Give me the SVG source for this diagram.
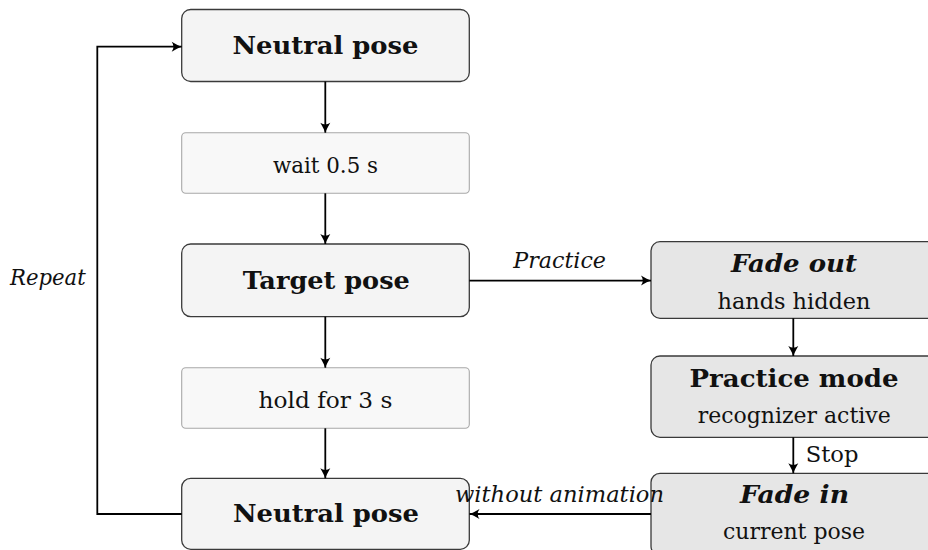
<svg xmlns="http://www.w3.org/2000/svg" width="928" height="550" viewBox="0 0 928 550" font-family="'DejaVu Serif', 'Liberation Serif', serif">
  <style>
    text { font-family: 'DejaVu Serif', 'Liberation Serif', serif; fill: #111; }
    .main { fill: #f4f4f4; stroke: #3a3a3a; stroke-width: 1.3; }
    .step { fill: #f8f8f8; stroke: #a8a8a8; stroke-width: 1.1; }
    .alt  { fill: #e6e6e6; stroke: #3a3a3a; stroke-width: 1.3; }
    .title { font-size: 25px; font-weight: bold; text-anchor: middle; }
    .titleit { font-size: 25px; font-weight: bold; font-style: italic; text-anchor: middle; }
    .body { font-size: 22px; text-anchor: middle; }
    .lbl { font-size: 22px; font-style: italic; }
    .plain { font-size: 22px; }
    .edge { fill: none; stroke: #000; stroke-width: 1.8; marker-end: url(#tip); }
  </style>
  <defs>
    <marker id="tip" viewBox="-11 -6 12 12" refX="0" refY="0" markerWidth="12" markerHeight="12" markerUnits="userSpaceOnUse" orient="auto">
      <path d="M-10,-5 Q-3.5,-1.2 0,0 Q-3.5,1.2 -10,5 Q-6.5,0 -10,-5 Z" fill="#000"/>
    </marker>
  </defs>

  <rect width="928" height="550" fill="#fff"/>

  <!-- main sequence -->
  <g id="neutral-top">
    <rect class="main" x="181.7" y="9.5" width="287.6" height="72" rx="9"/>
    <text class="title" x="325.5" y="53.5" textLength="186" lengthAdjust="spacingAndGlyphs">Neutral pose</text>
  </g>
  <g id="wait">
    <rect class="step" x="181.7" y="132.7" width="287.6" height="60.6" rx="4"/>
    <text class="body" x="325.5" y="172.7" textLength="105" lengthAdjust="spacingAndGlyphs">wait 0.5 s</text>
  </g>
  <g id="target">
    <rect class="main" x="181.7" y="244" width="287.6" height="72.6" rx="9"/>
    <text class="title" x="326.3" y="289" textLength="167" lengthAdjust="spacingAndGlyphs">Target pose</text>
  </g>
  <g id="hold">
    <rect class="step" x="181.7" y="367.7" width="287.6" height="60.6" rx="4"/>
    <text class="body" x="325.5" y="407.7" textLength="134" lengthAdjust="spacingAndGlyphs">hold for 3 s</text>
  </g>
  <g id="neutral-bottom">
    <rect class="main" x="181.7" y="478.3" width="287.6" height="71" rx="9"/>
    <text class="title" x="326" y="522.3" textLength="186" lengthAdjust="spacingAndGlyphs">Neutral pose</text>
  </g>

  <!-- practice branch -->
  <g id="fade-out">
    <rect class="alt" x="651" y="241.7" width="287" height="76.6" rx="9"/>
    <text class="titleit" x="794" y="271.7" textLength="126" lengthAdjust="spacingAndGlyphs">Fade out</text>
    <text class="body" x="794" y="309" textLength="153" lengthAdjust="spacingAndGlyphs">hands hidden</text>
  </g>
  <g id="practice-mode">
    <rect class="alt" x="651" y="356" width="287" height="81.3" rx="9"/>
    <text class="title" x="794" y="386.7" textLength="209" lengthAdjust="spacingAndGlyphs">Practice mode</text>
    <text class="body" x="794.2" y="423.3" textLength="193" lengthAdjust="spacingAndGlyphs">recognizer active</text>
  </g>
  <g id="fade-in">
    <rect class="alt" x="651" y="473.3" width="287" height="82" rx="9"/>
    <text class="titleit" x="794.5" y="502.7" textLength="109" lengthAdjust="spacingAndGlyphs">Fade in</text>
    <text class="body" x="794" y="539.3" textLength="142" lengthAdjust="spacingAndGlyphs">current pose</text>
  </g>

  <!-- connectors -->
  <g id="connectors">
    <line class="edge" x1="325.3" y1="81.5" x2="325.3" y2="132.7"/>
    <line class="edge" x1="325.3" y1="193.3" x2="325.3" y2="244"/>
    <line class="edge" x1="325.3" y1="316.6" x2="325.3" y2="367.7"/>
    <line class="edge" x1="325.3" y1="428.3" x2="325.3" y2="478.3"/>
    <line class="edge" x1="469.3" y1="280.6" x2="651" y2="280.6"/>
    <line class="edge" x1="793.3" y1="318.3" x2="793.3" y2="356"/>
    <line class="edge" x1="793.3" y1="437.3" x2="793.3" y2="473.3"/>
    <line class="edge" x1="651" y1="514" x2="469.5" y2="514"/>
    <polyline class="edge" points="181.7,514 97.3,514 97.3,46.7 181.7,46.7"/>
    <text class="lbl" x="513.3" y="268.3" textLength="92.7" lengthAdjust="spacingAndGlyphs">Practice</text>
    <text class="plain" x="805.7" y="461.7" textLength="52.7" lengthAdjust="spacingAndGlyphs">Stop</text>
    <text class="lbl" x="455" y="502.3" textLength="209" lengthAdjust="spacingAndGlyphs">without animation</text>
    <text class="lbl" x="10" y="285" textLength="75.7" lengthAdjust="spacingAndGlyphs">Repeat</text>
  </g>
</svg>
